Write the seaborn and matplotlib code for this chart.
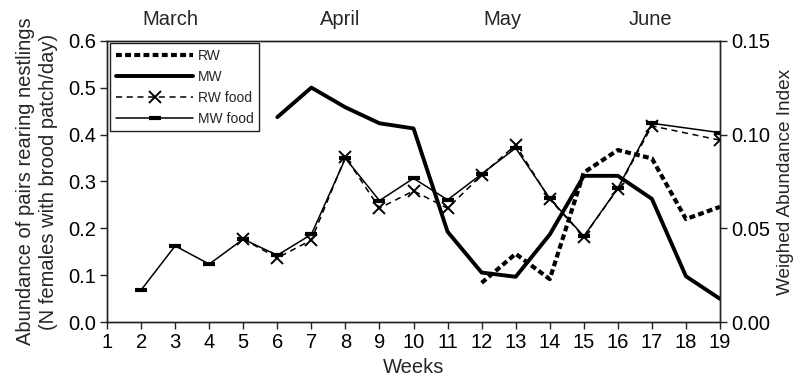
import numpy as np
import pandas as pd
import matplotlib
matplotlib.use("Agg")
import matplotlib.pyplot as plt
import matplotlib.transforms as mtransforms
import seaborn as sns

# Weekly abundance of pairs rearing nestlings (left axis)
weeks = list(range(1, 20))
rw_weeks = [12, 13, 14, 15, 16, 17, 18, 19]
rw_pairs = [0.084, 0.146, 0.092, 0.319, 0.367, 0.349, 0.220, 0.246]
mw_weeks = [6, 7, 8, 9, 10, 11, 12, 13, 14, 15, 16, 17, 18, 19]
mw_pairs = [0.437, 0.500, 0.458, 0.424, 0.413, 0.193, 0.106, 0.097,
            0.187, 0.312, 0.312, 0.263, 0.098, 0.050]

# Weighed food abundance index (right axis)
rw_food_weeks = [5, 6, 7, 8, 9, 10, 11, 12, 13, 14, 15, 16, 17, 19]
rw_food = [0.0443, 0.0343, 0.0438, 0.0880, 0.0608, 0.0700, 0.0607,
           0.0785, 0.0945, 0.0655, 0.0456, 0.0712, 0.1046, 0.0970]
mw_food_weeks = [2, 3, 4, 5, 6, 7, 8, 9, 10, 11, 12, 13, 14, 15, 16, 17, 19]
mw_food = [0.0172, 0.0407, 0.0310, 0.0443, 0.0357, 0.0468, 0.0873, 0.0648,
           0.0767, 0.0652, 0.0790, 0.0928, 0.0660, 0.0458, 0.0714, 0.1060, 0.1010]

months = ["March", "April", "May", "June"]
month_pos = [2.85, 7.85, 12.6, 16.95]

left_ticks = [0.0, 0.1, 0.2, 0.3, 0.4, 0.5, 0.6]
right_ticks = [0.00, 0.05, 0.10, 0.15]

FS = 14.5

sns.set_style("ticks")
plt.rcParams["font.family"] = ["Liberation Sans", "DejaVu Sans"]
plt.rcParams["axes.edgecolor"] = "#222222"
plt.rcParams["axes.linewidth"] = 1.0

pairs_df = pd.concat([
    pd.DataFrame({"week": rw_weeks, "value": rw_pairs, "series": "RW"}),
    pd.DataFrame({"week": mw_weeks, "value": mw_pairs, "series": "MW"}),
])
food_df = pd.concat([
    pd.DataFrame({"week": rw_food_weeks, "value": rw_food, "series": "RW food"}),
    pd.DataFrame({"week": mw_food_weeks, "value": mw_food, "series": "MW food"}),
])

fig = plt.figure(figsize=(7.97, 3.80), dpi=100)
ax = fig.add_axes([0.1343, 0.1518, 0.7691, 0.7412])
ax2 = ax.twinx()

sns.lineplot(data=pairs_df[pairs_df.series == "RW"], x="week", y="value",
             ax=ax, color="black", lw=3.0, linestyle=(0, (1.4, 0.8)),
             label="RW", legend=False)
sns.lineplot(data=pairs_df[pairs_df.series == "MW"], x="week", y="value",
             ax=ax, color="black", lw=2.8, label="MW", legend=False)
sns.lineplot(data=food_df[food_df.series == "RW food"], x="week", y="value",
             ax=ax2, color="black", lw=1.1, linestyle=(0, (4, 3)),
             marker="x", markersize=8, markeredgewidth=1.4,
             markeredgecolor="black", label="RW food", legend=False)
sns.lineplot(data=food_df[food_df.series == "MW food"], x="week", y="value",
             ax=ax2, color="black", lw=1.1, marker="_", markersize=9,
             markeredgewidth=3.0, markeredgecolor="black",
             label="MW food", legend=False)

ax.set_xlim(1, 19)
ax.set_ylim(0, 0.6)
ax2.set_ylim(0, 0.15)
ax.set_xticks(weeks)
ax.set_yticks(left_ticks)
ax.set_yticklabels([f"{t:.1f}" for t in left_ticks])
ax2.set_yticks(right_ticks)
ax2.set_yticklabels([f"{t:.2f}" for t in right_ticks])

for a in (ax, ax2):
    a.tick_params(direction="out", length=5, width=1, labelsize=FS,
                  colors="#222222", labelcolor="black", pad=3)
    for s in a.spines.values():
        s.set_visible(True)
        s.set_color("#222222")

ax.set_xlabel("Weeks", fontsize=FS, labelpad=4)
ax.set_ylabel("Abundance of pairs rearing nestlings\n(N females with brood patch/day)",
              fontsize=FS, labelpad=7, linespacing=1.3)
ax2.set_ylabel("Weighed Abundance Index", fontsize=13.7, labelpad=5)

trans = mtransforms.blended_transform_factory(ax.transData, ax.transAxes)
for m, p in zip(months, month_pos):
    ax.text(p, 1.075, m, transform=trans, ha="center", va="center", fontsize=FS)

handles = ax.get_lines()[:2] + ax2.get_lines()[:2]
labels = ["RW", "MW", "RW food", "MW food"]
leg = ax2.legend(handles, labels, loc="upper left", bbox_to_anchor=(0.005, 0.99),
                 fontsize=10, handlelength=5.6, handletextpad=0.3,
                 labelspacing=0.5, borderpad=0.4, frameon=True, fancybox=False,
                 borderaxespad=0)
leg.get_frame().set_edgecolor("#222222")
leg.get_frame().set_linewidth(1.0)
leg.get_frame().set_alpha(1)

fig.savefig("out.png", dpi=100)
